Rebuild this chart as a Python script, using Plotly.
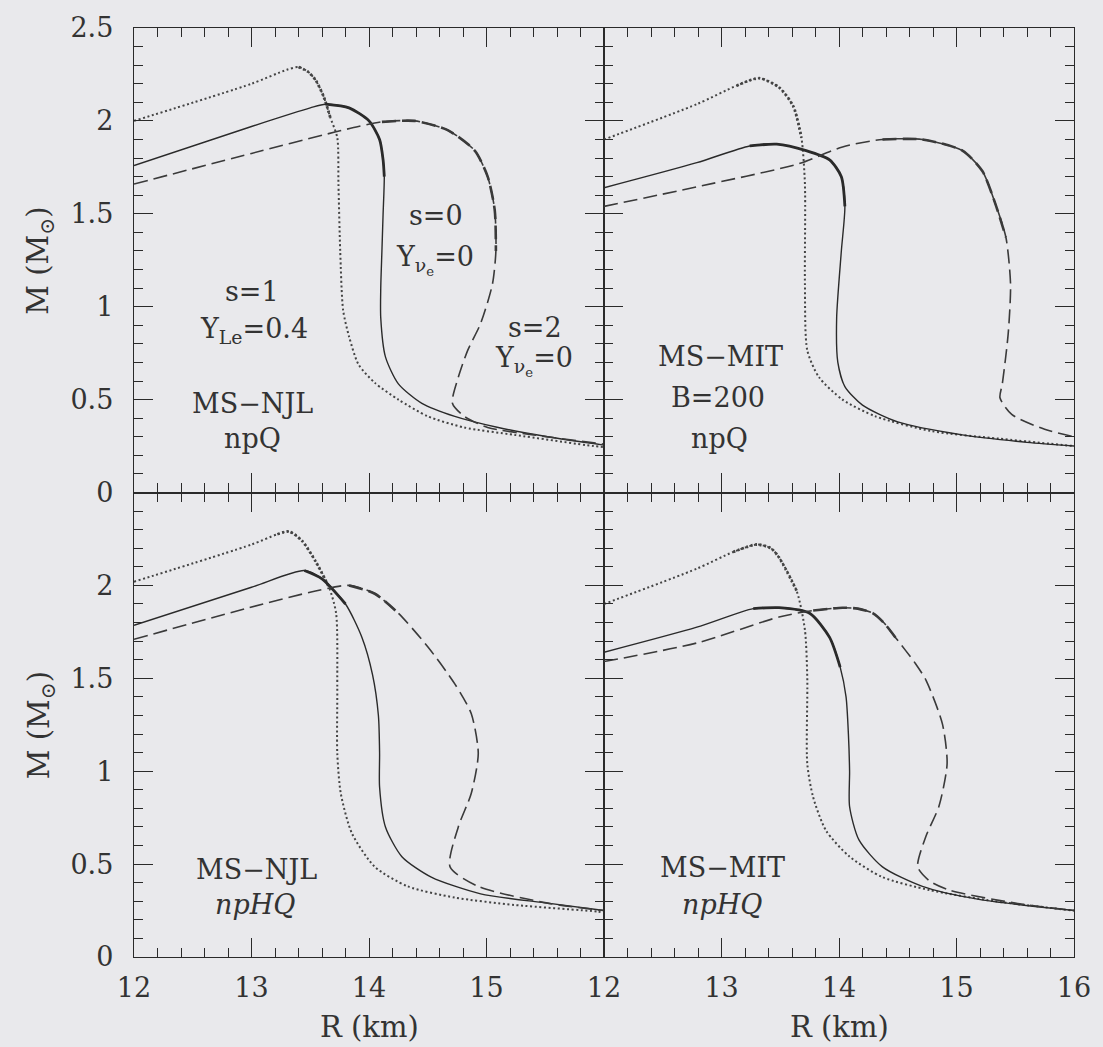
import plotly.graph_objects as go
from plotly.subplots import make_subplots

# Mass-radius relations, R in km, M in solar masses.
# Curve keys: "dot" = s=1, Y_Le=0.4 ; "solid" = s=0, Y_nu=0 ; "dash" = s=2, Y_nu=0

# MS-NJL, npQ (top left)
tl_dot_R = [12.0, 13.0, 13.30, 13.40, 13.48, 13.545, 13.615, 13.67, 13.73, 13.74, 13.755, 13.78, 13.83, 13.91, 14.05, 14.25, 14.50, 14.81, 15.24, 15.91, 16.0]
tl_dot_M = [2.00, 2.20, 2.275, 2.29, 2.265, 2.22, 2.13, 2.02, 1.91, 1.66, 1.30, 0.98, 0.84, 0.69, 0.59, 0.50, 0.41, 0.35, 0.31, 0.25, 0.245]
tl_solid_R = [12.0, 13.0, 13.5, 13.63, 13.83, 14.0, 14.09, 14.12, 14.13, 14.12, 14.11, 14.10, 14.10, 14.14, 14.25, 14.45, 14.73, 15.10, 15.52, 16.0]
tl_solid_M = [1.76, 1.97, 2.07, 2.09, 2.07, 2.00, 1.90, 1.79, 1.70, 1.50, 1.30, 1.10, 0.94, 0.73, 0.585, 0.48, 0.41, 0.35, 0.30, 0.255]
tl_dash_R = [12.0, 13.0, 13.71, 13.91, 14.11, 14.39, 14.67, 14.90, 15.01, 15.07, 15.08, 15.05, 14.95, 14.84, 14.76, 14.71, 14.81, 15.01, 15.40, 16.0]
tl_dash_M = [1.66, 1.825, 1.94, 1.97, 1.995, 2.00, 1.95, 1.84, 1.70, 1.52, 1.30, 1.12, 0.91, 0.765, 0.62, 0.48, 0.41, 0.35, 0.31, 0.26]

# MS-MIT B=200, npQ (top right)
tr_dot_R = [12.0, 12.79, 13.13, 13.32, 13.49, 13.61, 13.68, 13.71, 13.71, 13.73, 13.83, 14.03, 14.31, 14.79, 15.36, 16.0]
tr_dot_M = [1.90, 2.09, 2.19, 2.23, 2.18, 2.08, 1.91, 1.66, 1.12, 0.765, 0.62, 0.50, 0.41, 0.33, 0.29, 0.25]
tr_solid_R = [12.0, 12.79, 13.24, 13.47, 13.72, 13.92, 14.02, 14.05, 14.02, 13.98, 13.99, 14.05, 14.20, 14.50, 15.05, 15.60, 16.0]
tr_solid_M = [1.64, 1.775, 1.865, 1.875, 1.84, 1.79, 1.70, 1.54, 1.30, 0.94, 0.70, 0.57, 0.47, 0.38, 0.31, 0.27, 0.25]
tr_dash_R = [12.0, 12.79, 13.66, 14.03, 14.37, 14.71, 15.05, 15.22, 15.33, 15.42, 15.46, 15.44, 15.39, 15.37, 15.47, 15.75, 16.0]
tr_dash_M = [1.54, 1.645, 1.77, 1.86, 1.90, 1.90, 1.84, 1.73, 1.555, 1.375, 1.12, 0.855, 0.585, 0.51, 0.42, 0.34, 0.30]

# MS-NJL, npHQ (bottom left)
bl_dot_R = [12.0, 13.0, 13.22, 13.32, 13.43, 13.545, 13.66, 13.72, 13.73, 13.73, 13.76, 13.855, 14.05, 14.33, 14.73, 15.24, 15.94, 16.0]
bl_dot_M = [2.02, 2.22, 2.275, 2.29, 2.24, 2.13, 1.99, 1.85, 1.45, 1.095, 0.88, 0.665, 0.485, 0.38, 0.32, 0.28, 0.245, 0.24]
bl_solid_R = [12.0, 13.0, 13.45, 13.60, 13.80, 13.94, 14.03, 14.08, 14.09, 14.09, 14.14, 14.28, 14.53, 14.95, 15.52, 16.0]
bl_solid_M = [1.785, 1.99, 2.08, 2.035, 1.90, 1.72, 1.52, 1.30, 1.10, 0.915, 0.70, 0.54, 0.43, 0.34, 0.29, 0.25]
bl_dash_R = [12.0, 12.98, 13.545, 13.83, 14.05, 14.25, 14.50, 14.73, 14.87, 14.93, 14.87, 14.76, 14.69, 14.93, 15.52, 16.0]
bl_dash_M = [1.71, 1.88, 1.97, 2.00, 1.955, 1.85, 1.67, 1.47, 1.31, 1.095, 0.88, 0.70, 0.485, 0.38, 0.29, 0.25]

# MS-MIT, npHQ (bottom right)
br_dot_R = [12.0, 12.79, 13.10, 13.30, 13.42, 13.49, 13.64, 13.71, 13.73, 13.73, 13.78, 13.89, 14.09, 14.37, 14.77, 15.33, 16.0]
br_dot_M = [1.90, 2.09, 2.18, 2.22, 2.20, 2.15, 1.97, 1.76, 1.50, 1.04, 0.86, 0.68, 0.54, 0.43, 0.36, 0.30, 0.25]
br_solid_R = [12.0, 12.79, 13.27, 13.49, 13.75, 13.92, 14.01, 14.06, 14.08, 14.09, 14.09, 14.17, 14.37, 14.71, 15.19, 16.0]
br_solid_M = [1.64, 1.775, 1.875, 1.88, 1.85, 1.72, 1.56, 1.40, 1.20, 1.00, 0.81, 0.63, 0.485, 0.38, 0.31, 0.25]
br_dash_R = [12.0, 12.79, 13.49, 13.78, 14.03, 14.16, 14.29, 14.38, 14.48, 14.65, 14.74, 14.88, 14.92, 14.85, 14.74, 14.67, 14.77, 14.94, 15.5, 16.0]
br_dash_M = [1.59, 1.69, 1.83, 1.865, 1.88, 1.875, 1.85, 1.80, 1.72, 1.58, 1.49, 1.255, 1.04, 0.81, 0.65, 0.485, 0.41, 0.36, 0.29, 0.25]

x_ticks_left = [12, 13, 14, 15]
x_ticks_right = [12, 13, 14, 15, 16]
y_ticks_top = [0, 0.5, 1, 1.5, 2, 2.5]
y_ticks_bottom = [0, 0.5, 1, 1.5, 2]

BG = "#e9e9ec"
INK = "#2a2a2a"
FONT = "DejaVu Serif"

STYLE = {
    "dot": dict(color="#444444", width=2.0, dash="2px,2.6px"),
    "solid": dict(color="#2a2a2a", width=1.4, dash="solid"),
    "dash": dict(color="#3a3a3a", width=1.6, dash="14px,6px"),
}
THICK = {"dot": 2.8, "solid": 2.8, "dash": 2.6}

# (row, col, curves) where each curve is (kind, R, M, thick slice)
panels = [
    (1, 1, [("dot", tl_dot_R, tl_dot_M, (3, 8)),
            ("solid", tl_solid_R, tl_solid_M, (3, 9)),
            ("dash", tl_dash_R, tl_dash_M, (4, 11))]),
    (1, 2, [("dot", tr_dot_R, tr_dot_M, (2, 7)),
            ("solid", tr_solid_R, tr_solid_M, (2, 8)),
            ("dash", tr_dash_R, tr_dash_M, (4, 10))]),
    (2, 1, [("dot", bl_dot_R, bl_dot_M, (2, 7)),
            ("solid", bl_solid_R, bl_solid_M, (2, 5)),
            ("dash", bl_dash_R, bl_dash_M, (3, 6))]),
    (2, 2, [("dot", br_dot_R, br_dot_M, (2, 7)),
            ("solid", br_solid_R, br_solid_M, (2, 7)),
            ("dash", br_dash_R, br_dash_M, (3, 9))]),
]

fig = make_subplots(rows=2, cols=2, horizontal_spacing=0, vertical_spacing=0)

for row, col, curves in panels:
    for kind, R, M, (i0, i1) in curves:
        st = STYLE[kind]
        fig.add_trace(go.Scatter(
            x=R, y=M, mode="lines",
            line=dict(color=st["color"], width=st["width"], dash=st["dash"],
                      shape="spline", smoothing=0.7),
            hoverinfo="skip", showlegend=False), row=row, col=col)
        fig.add_trace(go.Scatter(
            x=R[i0:i1], y=M[i0:i1], mode="lines",
            line=dict(color=st["color"], width=THICK[kind], dash=st["dash"],
                      shape="spline", smoothing=0.7),
            hoverinfo="skip", showlegend=False), row=row, col=col)

axis_common = dict(
    showgrid=False, zeroline=False, showline=True, linecolor=INK, linewidth=1.4,
    mirror="ticks", ticks="inside", tickcolor=INK, tickwidth=1.3, ticklen=19,
    tickfont=dict(family=FONT, size=27, color="#333333"),
)

for row in (1, 2):
    for col in (1, 2):
        xt = x_ticks_left if col == 1 else x_ticks_right
        yt = y_ticks_top if row == 1 else y_ticks_bottom
        fig.update_xaxes(
            range=[12, 16], tickmode="array", tickvals=xt,
            ticktext=[str(v) for v in xt], showticklabels=(row == 2),
            ticklabelstandoff=6,
            minor=dict(ticks="inside", dtick=0.2, tick0=12, ticklen=9,
                       tickwidth=1.2, tickcolor=INK),
            row=row, col=col, **axis_common)
        fig.update_yaxes(
            range=[0, 2.5], tickmode="array", tickvals=yt,
            ticktext=[("%g" % v) for v in yt], showticklabels=(col == 1),
            ticklabelstandoff=14,
            minor=dict(ticks="inside", dtick=0.1, tick0=0, ticklen=9,
                       tickwidth=1.2, tickcolor=INK),
            row=row, col=col, **axis_common)

TXT = dict(family=FONT, size=27, color="#333333")


def label(text, xref, yref, x, y):
    fig.add_annotation(text=text, x=x, y=y, xref=xref, yref=yref,
                       showarrow=False, xanchor="center", yanchor="middle",
                       font=TXT)


# top left
label("s=1", "x", "y", 13.0, 1.08)
label("Y<sub>Le</sub>=0.4", "x", "y", 13.02, 0.87)
label("MS−NJL", "x", "y", 13.01, 0.48)
label("npQ", "x", "y", 13.01, 0.29)
label("s=0", "x", "y", 14.57, 1.49)
label("Y<sub>ν<sub>e</sub></sub>=0", "x", "y", 14.56, 1.25)
label("s=2", "x", "y", 15.41, 0.89)
label("Y<sub>ν<sub>e</sub></sub>=0", "x", "y", 15.40, 0.71)
# top right
label("MS−MIT", "x2", "y2", 12.99, 0.73)
label("B=200", "x2", "y2", 12.97, 0.51)
label("npQ", "x2", "y2", 12.98, 0.29)
# bottom left
label("MS−NJL", "x3", "y3", 13.04, 0.47)
label("<i>npHQ</i>", "x3", "y3", 13.03, 0.28)
# bottom right
label("MS−MIT", "x4", "y4", 13.01, 0.48)
label("<i>npHQ</i>", "x4", "y4", 13.0, 0.28)

# axis titles
TITLE = dict(family=FONT, size=29, color="#333333")
for xc in (0.25, 0.75):
    fig.add_annotation(text="R (km)", x=xc, y=-0.0753, xref="paper", yref="paper",
                       showarrow=False, xanchor="center", yanchor="middle", font=TITLE)
for yc in (0.25, 0.75):
    fig.add_annotation(text="M (M<sub>⊙</sub>)", x=-0.0995, y=yc, xref="paper", yref="paper",
                       showarrow=False, xanchor="center", yanchor="middle",
                       textangle=-90, font=TITLE)

fig.update_layout(
    width=1103, height=1047,
    margin=dict(l=134, r=24, t=28, b=90),
    paper_bgcolor=BG, plot_bgcolor=BG,
    showlegend=False,
)

fig.write_html("out.html")
